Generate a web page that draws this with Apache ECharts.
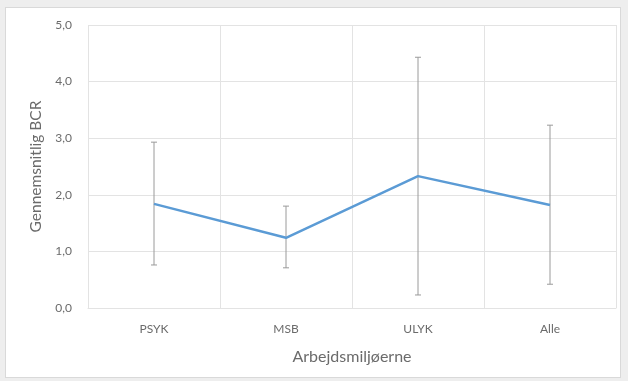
<!DOCTYPE html>
<html>
<head>
<meta charset="utf-8">
<script src="https://cdn.jsdelivr.net/npm/echarts@6/dist/echarts.min.js"></script>
<style>
  html, body { margin: 0; padding: 0; background: #eeeeee; }
  #frame { position: absolute; left: 5px; top: 7px; width: 616px; height: 371px; background: #fff; border: 1px solid #d9d9d9; box-sizing: border-box; }
  #chart { position: absolute; left: 0; top: 0; width: 628px; height: 381px; }
</style>
</head>
<body>
<div id="frame"></div>
<div id="chart"></div>
<script>
const categories = ['PSYK', 'MSB', 'ULYK', 'Alle'];
const meanBCR = [1.84, 1.24, 2.33, 1.82];
const lowBCR = [0.76, 0.71, 0.23, 0.42];
const highBCR = [2.93, 1.80, 4.43, 3.23];
const yTicks = [0, 1, 2, 3, 4, 5];

const font = 'Lato, "Open Sans", sans-serif';
const textColor = '#6b6b6b';
const chart = echarts.init(document.getElementById('chart'), null, { renderer: 'canvas' });

const errData = categories.map((c, i) => [i, lowBCR[i], highBCR[i]]);

chart.setOption({
  animation: false,
  backgroundColor: 'transparent',
  grid: { left: 88, right: 12, top: 25, bottom: 73 },
  xAxis: {
    type: 'category',
    data: categories,
    boundaryGap: true,
    name: 'Arbejdsmiljøerne',
    nameLocation: 'middle',
    nameGap: 41,
    nameTextStyle: { color: textColor, fontSize: 16, fontFamily: font },
    axisLine: { lineStyle: { color: '#e3e3e3' } },
    axisTick: { show: false },
    axisLabel: { color: textColor, fontSize: 12, fontFamily: font, margin: 15 },
    splitLine: { show: true, lineStyle: { color: '#e3e3e3', width: 1 } }
  },
  yAxis: {
    type: 'value',
    min: yTicks[0],
    max: yTicks[yTicks.length - 1],
    interval: 1,
    name: 'Gennemsnitlig BCR',
    nameLocation: 'middle',
    nameGap: 42,
    nameTextStyle: { color: textColor, fontSize: 15.5, fontFamily: font },
    axisLine: { show: false },
    axisTick: { show: false },
    axisLabel: { color: textColor, fontSize: 12, fontFamily: font, margin: 16,
      formatter: v => v.toFixed(1).replace('.', ',') },
    splitLine: { lineStyle: { color: '#e3e3e3', width: 1 } }
  },
  series: [
    {
      type: 'custom',
      z: 1,
      data: errData,
      renderItem: function (params, api) {
        const x = api.value(0);
        const lo = api.coord([x, api.value(1)]);
        const hi = api.coord([x, api.value(2)]);
        const cap = 3;
        const style = { stroke: '#9a9a9a', lineWidth: 1 };
        return {
          type: 'group',
          children: [
            { type: 'line', shape: { x1: lo[0], y1: lo[1], x2: hi[0], y2: hi[1] }, style },
            { type: 'line', shape: { x1: lo[0] - cap, y1: lo[1], x2: lo[0] + cap, y2: lo[1] }, style },
            { type: 'line', shape: { x1: hi[0] - cap, y1: hi[1], x2: hi[0] + cap, y2: hi[1] }, style }
          ]
        };
      }
    },
    {
      type: 'line',
      z: 2,
      data: meanBCR,
      symbol: 'none',
      lineStyle: { color: '#5b9bd5', width: 2.5 }
    }
  ]
});
</script>
</body>
</html>
